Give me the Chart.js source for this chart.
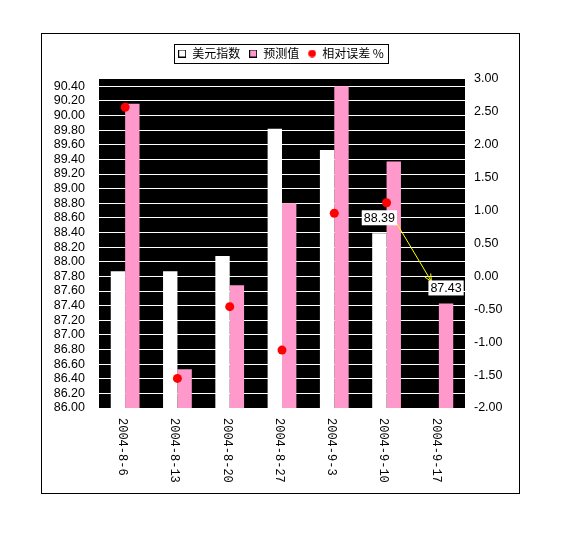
<!DOCTYPE html>
<html lang="zh">
<head>
    <meta charset="UTF-8">
    <title>美元指数 预测值 相对误差</title>
    <script src="https://cdn.jsdelivr.net/npm/chart.js"></script>
    <style>
        body { margin: 0; background: #fff; }
        canvas { display: block; }
    </style>
</head>
<body>
    <canvas id="chart" width="570" height="534"></canvas>

    <script>
        const categories = ['2004-8-6', '2004-8-13', '2004-8-20', '2004-8-27', '2004-9-3', '2004-9-10', '2004-9-17'];
        const usdIndex = [87.87, 87.87, 88.08, 89.82, 89.53, 88.39, null];
        const forecast = [90.16, 86.53, 87.68, 88.80, 90.40, 89.37, 87.43];
        const relError = [2.57, -1.55, -0.46, -1.12, 0.96, 1.12, null];
        const seriesNames = ['美元指数', '预测值', '相对误差 %'];
        const leftTicks = [86.00, 86.20, 86.40, 86.60, 86.80, 87.00, 87.20, 87.40, 87.60, 87.80, 88.00, 88.20,
            88.40, 88.60, 88.80, 89.00, 89.20, 89.40, 89.60, 89.80, 90.00, 90.20, 90.40];
        const rightTicks = [-2.00, -1.50, -1.00, -0.50, 0.00, 0.50, 1.00, 1.50, 2.00, 2.50, 3.00];

        const PINK = '#FF99CC';
        const tickFont = { family: '"Liberation Sans", Arial, sans-serif', size: 12.5 };

        // small marker images for the legend
        function markerImg(kind) {
            const c = document.createElement('canvas');
            c.width = c.height = 8;
            const g = c.getContext('2d');
            if (kind === 'dot') {
                g.fillStyle = '#FF0000';
                g.beginPath();
                g.arc(4, 4, 3.8, 0, Math.PI * 2);
                g.fill();
            } else {
                g.fillStyle = kind;
                g.fillRect(0, 0, 8, 8);
                g.strokeStyle = '#000';
                g.lineWidth = 1;
                g.strokeRect(0.5, 0.5, 7, 7);
            }
            return c;
        }
        const legendMarkers = [markerImg('#FFFFFF'), markerImg(PINK), markerImg('dot')];

        const decor = {
            id: 'decor',
            afterInit(chart) {
                const lg = chart.legend;
                if (lg && !lg._wrapped) {
                    const fit = lg.fit.bind(lg);
                    lg.fit = function () { fit(); if (this.height) this.height = 40.5; };
                    lg._wrapped = true;
                }
            },
            beforeDraw(chart) {
                const { ctx, chartArea: a } = chart;
                ctx.save();
                ctx.fillStyle = '#fff';
                ctx.fillRect(0, 0, chart.width, chart.height);
                ctx.fillStyle = '#000';
                ctx.fillRect(a.left, a.top, a.right - a.left, a.bottom - a.top);
                ctx.restore();
            },
            afterDatasetsDraw(chart) {
                const { ctx } = chart;
                const b1 = chart.getDatasetMeta(1).data[5]; // 美元指数 2004-9-10
                const b2 = chart.getDatasetMeta(2).data[6]; // 预测值 2004-9-17
                ctx.save();
                ctx.font = '12.5px "Liberation Sans", Arial, sans-serif';
                const box = (bar, val) => {
                    const t = val.toFixed(2);
                    const w = ctx.measureText(t).width + 4;
                    return { t, x: bar.x - w / 2, y: bar.y - 8 - 15, w, h: 15 };
                };
                const r1 = box(b1, usdIndex[5]);
                const r2 = box(b2, forecast[6]);

                // arrow
                const sx = r1.x + r1.w - 1, sy = r1.y + r1.h - 3;
                const ex = r2.x + 3, ey = r2.y + 1;
                const ang = Math.atan2(ey - sy, ex - sx);
                ctx.strokeStyle = '#FFFF00';
                ctx.lineWidth = 1;
                ctx.beginPath();
                ctx.moveTo(sx, sy);
                ctx.lineTo(ex, ey);
                ctx.moveTo(ex - 8 * Math.cos(ang - 0.45), ey - 8 * Math.sin(ang - 0.45));
                ctx.lineTo(ex, ey);
                ctx.lineTo(ex - 8 * Math.cos(ang + 0.45), ey - 8 * Math.sin(ang + 0.45));
                ctx.stroke();

                [r1, r2].forEach(r => {
                    ctx.fillStyle = '#fff';
                    ctx.fillRect(r.x, r.y, r.w, r.h);
                    ctx.fillStyle = '#000';
                    ctx.textAlign = 'center';
                    ctx.textBaseline = 'middle';
                    ctx.fillText(r.t, r.x + r.w / 2, r.y + r.h / 2 + 1);
                });
                ctx.restore();
            },
            afterDraw(chart) {
                const { ctx, chartArea: a } = chart;
                ctx.save();
                // rotated category labels (read top to bottom)
                const xs = chart.scales.x;
                ctx.font = '12px "Liberation Mono", "DejaVu Sans Mono", monospace';
                ctx.fillStyle = '#000';
                ctx.textAlign = 'left';
                ctx.textBaseline = 'middle';
                categories.forEach((c, i) => {
                    ctx.save();
                    ctx.translate(xs.getPixelForTick(i) - 3, a.bottom + 10);
                    ctx.rotate(Math.PI / 2);
                    ctx.fillText(c, 0, 0);
                    ctx.restore();
                });
                // legend frame
                const hb = chart.legend.legendHitBoxes;
                if (hb && hb.length) {
                    const l = hb[0].left - 4;
                    const last = hb[hb.length - 1];
                    const r = last.left + last.width + 4;
                    const cy = hb[0].top + hb[0].height / 2;
                    ctx.strokeStyle = '#000';
                    ctx.lineWidth = 1;
                    ctx.strokeRect(Math.round(l) + 0.5, Math.round(cy - 10) + 0.5, Math.round(r - l), 19);
                }
                // outer frame
                ctx.strokeRect(41.5, 33.5, 478, 460);
                ctx.restore();
            }
        };

        const ctx = document.getElementById('chart').getContext('2d');
        new Chart(ctx, {
            data: {
                labels: categories,
                datasets: [
                    {
                        type: 'line',
                        label: seriesNames[2],
                        data: relError,
                        yAxisID: 'y1',
                        showLine: false,
                        pointRadius: 4.5,
                        pointBackgroundColor: '#FF0000',
                        pointBorderWidth: 0,
                        order: 0
                    },
                    {
                        type: 'bar',
                        label: seriesNames[0],
                        data: usdIndex,
                        yAxisID: 'y',
                        backgroundColor: '#FFFFFF',
                        borderWidth: 0,
                        categoryPercentage: 0.55,
                        barPercentage: 1.0,
                        order: 1
                    },
                    {
                        type: 'bar',
                        label: seriesNames[1],
                        data: forecast,
                        yAxisID: 'y',
                        backgroundColor: PINK,
                        borderWidth: 0,
                        categoryPercentage: 0.55,
                        barPercentage: 1.0,
                        order: 1
                    }
                ]
            },
            options: {
                responsive: false,
                animation: false,
                layout: { padding: { top: 38.5, right: 8, bottom: 0, left: 0 } },
                plugins: {
                    tooltip: { enabled: false },
                    legend: {
                        display: true,
                        position: 'top',
                        labels: {
                            usePointStyle: true,
                            boxWidth: 8,
                            boxHeight: 8,
                            padding: 9,
                            color: '#000',
                            font: { family: '"Noto Sans CJK SC", sans-serif', size: 12 },
                            generateLabels: () => [1, 2, 0].map((di, k) => ({
                                text: seriesNames[k],
                                pointStyle: legendMarkers[k],
                                fillStyle: 'transparent',
                                strokeStyle: 'transparent',
                                lineWidth: 0,
                                hidden: false,
                                datasetIndex: di
                            }))
                        }
                    }
                },
                scales: {
                    x: {
                        grid: { display: false },
                        border: { display: false },
                        ticks: { display: false },
                        afterFit: s => { s.height = 126; }
                    },
                    y: {
                        position: 'left',
                        min: 86,
                        max: 90.5,
                        border: { display: false },
                        grid: {
                            color: c => (c.tick && Math.abs(c.tick.value - 86) < 1e-6 ? 'rgba(0,0,0,0)' : '#FFFFFF'),
                            lineWidth: 1,
                            drawTicks: false
                        },
                        ticks: {
                            autoSkip: false,
                            padding: 14,
                            color: '#000',
                            font: tickFont,
                            callback: v => Number(v).toFixed(2)
                        },
                        afterBuildTicks: s => { s.ticks = leftTicks.map(v => ({ value: v })); },
                        afterFit: s => { s.width = 99; }
                    },
                    y1: {
                        position: 'right',
                        min: -2,
                        max: 3,
                        border: { display: false },
                        grid: { display: false, drawTicks: false },
                        ticks: {
                            autoSkip: false,
                            padding: 9,
                            color: '#000',
                            font: tickFont,
                            callback: v => Number(v).toFixed(2)
                        },
                        afterBuildTicks: s => { s.ticks = rightTicks.map(v => ({ value: v })); },
                        afterFit: s => { s.width = 97; }
                    }
                }
            },
            plugins: [decor]
        });
    </script>
</body>
</html>
